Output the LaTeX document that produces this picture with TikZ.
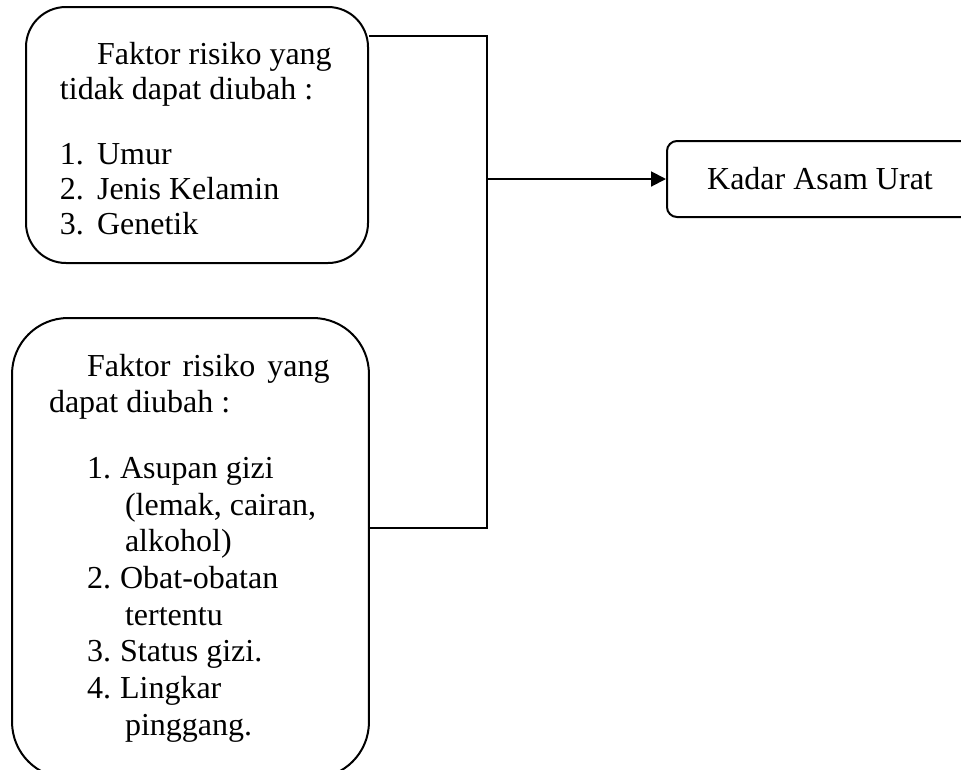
\documentclass[tikz,border=0pt]{standalone}
\usepackage{fontspec}
\setmainfont{Liberation Serif}
\usetikzlibrary{arrows.meta,positioning,calc}
\newcommand{\itemno}[2]{\makebox[#1][l]{#2}}
\tikzset{
  riskbox/.style={draw, line width=0.75pt, align=left, inner ysep=0pt, font={\fontsize{12}{13.1}\selectfont},
    execute at begin node={\spaceskip=0pt\xspaceskip=0pt}},
  outbox/.style={draw, line width=0.75pt, rounded corners=3.75pt, align=center, minimum width=114.75pt, minimum height=28.5pt, font={\fontsize{12}{14}\selectfont}},
  line/.style={line width=0.75pt},
  arrow/.style={-{Triangle[length=5.6pt,width=5.6pt]}, line width=0.75pt}
}
\begin{document}
\begin{tikzpicture}[x=0.375pt,y=-0.375pt]
  \useasboundingbox (0,0) rectangle (961,769);
  \clip (0,0) rectangle (961,769);

  \node[riskbox, rounded corners=15pt, text width=102.75pt, inner xsep=12.75pt, minimum height=96pt] (fixed) at (197,135)
    {\rule{0pt}{10.8pt}\hspace*{13.9pt}Faktor risiko yang\\
     tidak dapat diubah :\\[11.25pt]
     \itemno{13.9pt}{1.}Umur\\
     \itemno{13.9pt}{2.}Jenis Kelamin\\
     \itemno{13.9pt}{3.}Genetik};

  \node[riskbox, rounded corners=21pt, text width=106.1pt, inner xsep=13.875pt, minimum height=172.5pt, font={\fontsize{12}{13.75}\selectfont}] (modif) at (190.5,548)
    {\hspace*{14.25pt}\makebox[91pt][s]{Faktor risiko yang}\\
     dapat diubah :\\[10.8pt]
     \hspace*{14.25pt}\itemno{12.4pt}{1.}Asupan gizi\\
     \hspace*{28.5pt}(lemak, cairan,\\
     \hspace*{28.5pt}alkohol)\\
     \hspace*{14.25pt}\itemno{12.4pt}{2.}Obat-obatan\\
     \hspace*{28.5pt}tertentu\\
     \hspace*{14.25pt}\itemno{12.4pt}{3.}Status gizi.\\
     \hspace*{14.25pt}\itemno{12.4pt}{4.}Lingkar\\
     \hspace*{28.5pt}pinggang.};

  \node[outbox] (kadar) at (820,179) {Kadar Asam Urat};

  \coordinate (join) at (487,179);
  \draw[line] ([yshift=-11.25pt]fixed.north east) -| (join) |- ([yshift=7.5pt]modif.east);
  \draw[arrow] (join) -- (kadar);
\end{tikzpicture}
\end{document}
